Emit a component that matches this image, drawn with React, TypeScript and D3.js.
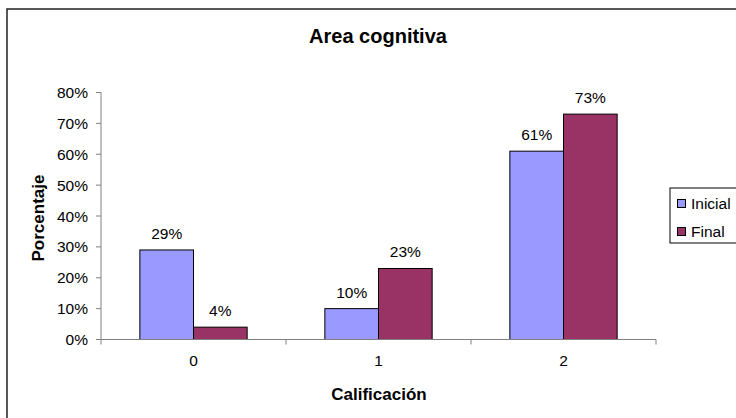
import React from "react";
import * as d3 from "d3";

const categories = ["0", "1", "2"];
const seriesNames = ["Inicial", "Final"];
const inicial = [29, 10, 61];
const final = [4, 23, 73];
const yTicks = [0, 10, 20, 30, 40, 50, 60, 70, 80];
const colors = ["#9999FF", "#993366"];

const W = 736;
const H = 418;
const plot = { left: 101, right: 656, top: 92.5, bottom: 339.5 };
const font = "'Liberation Sans', Arial, sans-serif";
const fs = 15.5;

export default function App() {
  const x = d3.scaleBand<string>().domain(categories).range([plot.left, plot.right]).paddingInner(0).paddingOuter(0);
  const y = d3.scaleLinear().domain([0, 80]).range([plot.bottom, plot.top]);
  const groupW = x.bandwidth() * 0.58;
  const xs = d3.scaleBand<string>().domain(seriesNames).range([0, groupW]);
  const series = [inicial, final];

  return (
    <svg width={W} height={H} style={{ position: "absolute", left: 0, top: 0 }}>
      <rect x={0} y={0} width={W} height={H} fill="#fff" />
      <rect x={7} y={9} width={W + 20} height={H + 20} fill="#fff" stroke="#222" strokeWidth={1.5} />
      <text x={378} y={43} textAnchor="middle" fontFamily={font} fontSize={20} fontWeight="bold">
        Area cognitiva
      </text>

      {/* y axis */}
      <line x1={plot.left} x2={plot.left} y1={plot.top} y2={plot.bottom} stroke="#808080" />
      {yTicks.map((t) => (
        <g key={t}>
          <line x1={plot.left - 5} x2={plot.left} y1={y(t)} y2={y(t)} stroke="#808080" />
          <text x={plot.left - 13} y={y(t) + 5.5} textAnchor="end" fontFamily={font} fontSize={fs}>
            {t}%
          </text>
        </g>
      ))}

      {/* bars */}
      {categories.map((c, ci) => {
        const gx = (x(c) as number) + (x.bandwidth() - groupW) / 2;
        return series.map((vals, si) => {
          const bx = gx + (xs(seriesNames[si]) as number);
          const v = vals[ci];
          return (
            <g key={c + si}>
              <rect x={bx} y={y(v)} width={xs.bandwidth()} height={y(0) - y(v)} fill={colors[si]} stroke="#000" strokeWidth={1} />
              <text x={bx + xs.bandwidth() / 2} y={y(v) - 11} textAnchor="middle" fontFamily={font} fontSize={fs}>
                {v}%
              </text>
            </g>
          );
        });
      })}

      {/* x axis */}
      <line x1={plot.left} x2={plot.right} y1={plot.bottom} y2={plot.bottom} stroke="#808080" />
      {[...categories.map((c) => x(c) as number), plot.right].map((p, i) => (
        <line key={i} x1={p} x2={p} y1={plot.bottom} y2={plot.bottom + 5} stroke="#808080" />
      ))}
      {categories.map((c) => (
        <text key={c} x={(x(c) as number) + x.bandwidth() / 2} y={plot.bottom + 26} textAnchor="middle" fontFamily={font} fontSize={fs}>
          {c}
        </text>
      ))}
      <text x={379} y={400} textAnchor="middle" fontFamily={font} fontSize={17} fontWeight="bold">
        Calificación
      </text>
      <text transform={`translate(44,218) rotate(-90)`} textAnchor="middle" fontFamily={font} fontSize={17} fontWeight="bold">
        Porcentaje
      </text>

      {/* legend */}
      <rect x={670} y={188} width={80} height={55} fill="#fff" stroke="#000" strokeWidth={1} />
      {seriesNames.map((s, i) => (
        <g key={s}>
          <rect x={677.5} y={199.5 + i * 28} width={8} height={8} fill={colors[i]} stroke="#000" />
          <text x={691} y={209 + i * 28} fontFamily={font} fontSize={fs}>
            {s}
          </text>
        </g>
      ))}
    </svg>
  );
}
